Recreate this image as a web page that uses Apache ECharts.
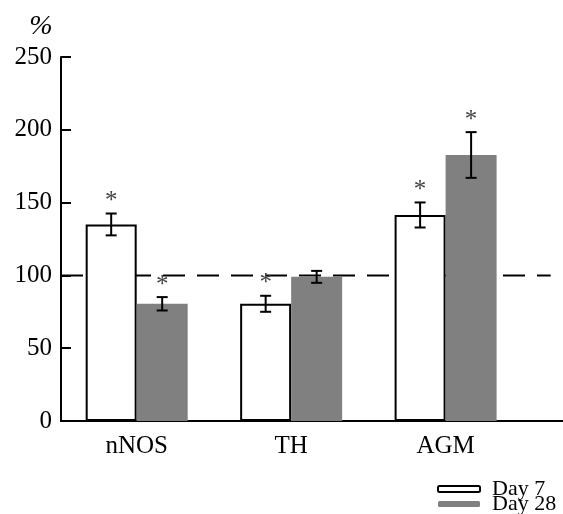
<!DOCTYPE html>
<html>
<head>
<meta charset="utf-8">
<script src="https://cdn.jsdelivr.net/npm/echarts@6/dist/echarts.min.js"></script>
<style>html,body{margin:0;padding:0;background:#fff}#c{width:563px;height:514px}</style>
</head>
<body>
<div id="c"></div>
<script>
var categories = ['nNOS', 'TH', 'AGM'];
var day7 = [135, 80.5, 141.5];
var day7Err = [7.5, 5.5, 8.6];
var day7Sig = [true, true, true];
var day28 = [80.5, 99, 182.7];
var day28Err = [4.6, 4.1, 15.7];
var day28Sig = [true, false, true];
var refValue = 100;
var yTicks = [0, 50, 100, 150, 200, 250];

var FONT = 'Liberation Serif';
var BW = 51;

function barData(vals) { return vals.map(function (v, i) { return [i, v]; }); }
function errData(vals, errs, sig) {
  return vals.map(function (v, i) { return [i, v, errs[i], sig[i] ? 1 : 0]; });
}
function errSeries(name, vals, errs, sig, offset) {
  return {
    type: 'custom', name: name + ' err', z: 5, silent: true,
    data: errData(vals, errs, sig),
    renderItem: function (params, api) {
      var x = api.value(0), v = api.value(1), e = api.value(2), s = api.value(3);
      var top = api.coord([x, v + e]);
      var bot = api.coord([x, v - e]);
      var cx = top[0] + offset;
      var cap = 5.5;
      var st = { stroke: '#000', lineWidth: 2 };
      var children = [
        { type: 'line', shape: { x1: cx, y1: top[1], x2: cx, y2: bot[1] }, style: st },
        { type: 'line', shape: { x1: cx - cap, y1: top[1], x2: cx + cap, y2: top[1] }, style: st },
        { type: 'line', shape: { x1: cx - cap, y1: bot[1], x2: cx + cap, y2: bot[1] }, style: st }
      ];
      if (s) {
        children.push({ type: 'text', style: { text: '*', x: cx, y: top[1] - 12, align: 'center', verticalAlign: 'middle', font: '25px "Liberation Serif"', fill: '#444' } });
      }
      return { type: 'group', children: children };
    }
  };
}

var chart = echarts.init(document.getElementById('c'), null, { renderer: 'canvas' });
chart.setOption({
  animation: false,
  backgroundColor: '#fff',
  grid: { left: 61, right: 0, top: 57, bottom: 93, containLabel: false },
  legend: {
    orient: 'vertical', left: 437, top: 478, height: 80, itemWidth: 42, itemHeight: 6, itemGap: -7,
    padding: 0, selectedMode: false,
    data: ['Day 7', 'Day 28'],
    textStyle: { fontFamily: FONT, fontSize: 22, color: '#000', padding: [0, 0, 0, 7] }
  },
  xAxis: {
    type: 'value', min: -0.49, max: 2.76,
    splitLine: { show: false },
    axisLine: { show: true, onZero: false, lineStyle: { color: '#000', width: 2 } },
    axisTick: { show: false },
    axisLabel: {
      customValues: [0, 1, 2],
      formatter: function (v) { return categories[Math.round(v)]; },
      fontFamily: FONT, fontSize: 25, color: '#000', margin: 13
    }
  },
  yAxis: {
    type: 'value', min: 0, max: 250, interval: 50,
    name: '%', nameLocation: 'end', nameGap: 16,
    nameTextStyle: { fontFamily: FONT, fontStyle: 'italic', fontSize: 28, color: '#000', align: 'center', padding: [0, 40, 0, 0] },
    splitLine: { show: false },
    axisLine: { show: true, onZero: false, lineStyle: { color: '#000', width: 2 } },
    axisTick: { show: true, inside: true, length: 10, lineStyle: { color: '#000', width: 2 } },
    axisLabel: { fontFamily: FONT, fontSize: 25, color: '#000', margin: 9,
      formatter: function (v) { return yTicks.indexOf(v) >= 0 ? String(v) : ''; } }
  },
  series: [
    {
      type: 'line', name: 'ref', z: 1, silent: true, symbol: 'none',
      data: [[-0.49, refValue], [2.68, refValue]],
      lineStyle: { color: '#000', width: 2, type: [22, 12] }
    },
    {
      type: 'bar', name: 'Day 7', z: 2, barWidth: BW, barGap: '0%',
      data: barData(day7),
      itemStyle: { color: '#fff', borderColor: '#000', borderWidth: 2 }
    },
    {
      type: 'bar', name: 'Day 28', z: 2, barWidth: BW, barGap: '0%',
      data: barData(day28),
      itemStyle: { color: '#808080', borderWidth: 0 }
    },
    errSeries('Day 7', day7, day7Err, day7Sig, -BW / 2),
    errSeries('Day 28', day28, day28Err, day28Sig, BW / 2)
  ]
});
</script>
</body>
</html>
